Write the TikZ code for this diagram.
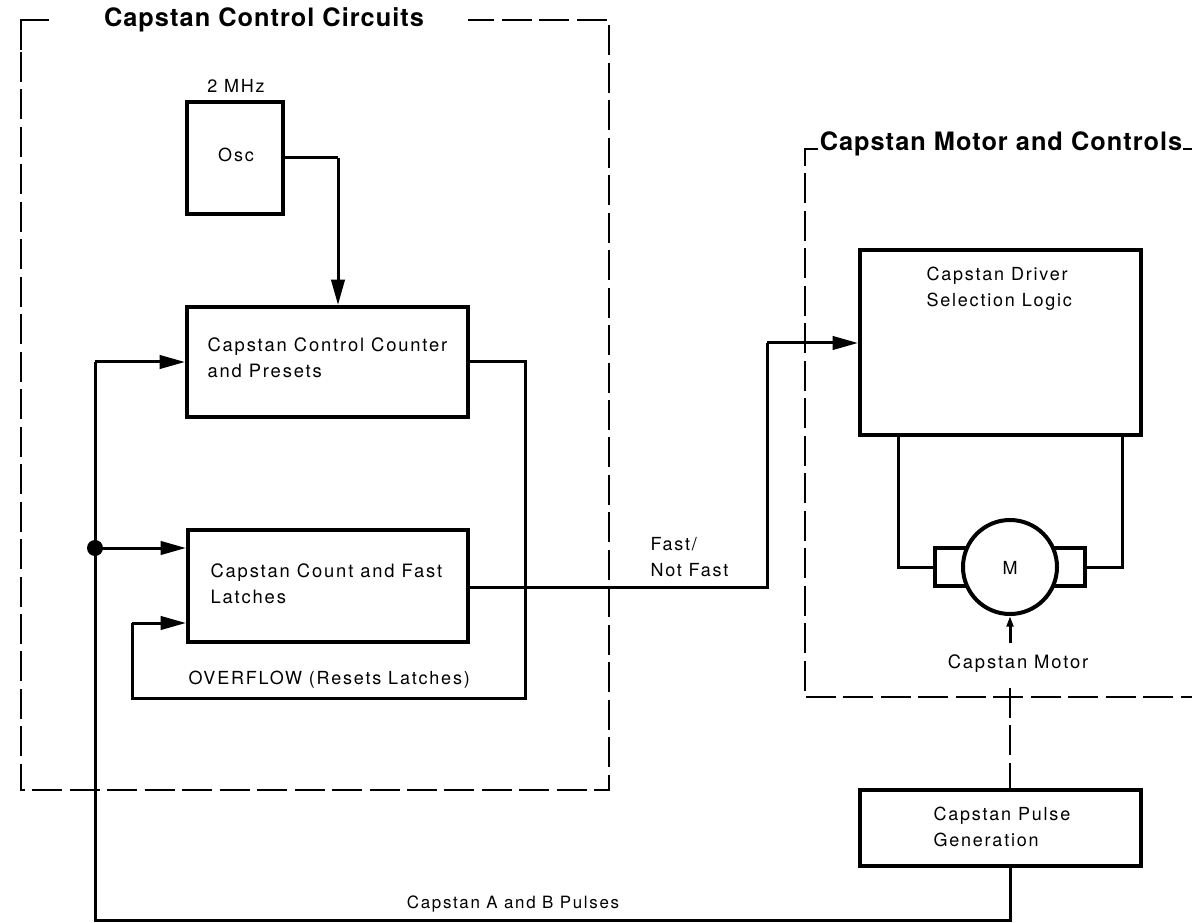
\documentclass[tikz,border=0pt]{standalone}
\usepackage{fontspec}
\setmainfont{TeX Gyre Heros}
\newfontfamily\spacedfont[LetterSpace=10]{TeX Gyre Heros}
\newfontfamily\headfont[LetterSpace=4,BoldFont={TeX Gyre Heros Bold}]{TeX Gyre Heros}
\usetikzlibrary{arrows.meta}
\tikzset{every picture/.style={line width=0.75pt}}
\tikzset{
  blockbox/.style={draw,line width=3pt,inner sep=0pt,anchor=north west},
  wire/.style={line width=2.25pt},
  feed/.style={wire,-{Triangle[length=19pt,width=10pt]}},
  dashwire/.style={line width=1.4pt,dash pattern=on 22.5pt off 5.6pt},
  label/.style={font=\fontsize{13.5pt}{19.5pt}\selectfont\spacedfont,align=left,inner sep=0pt},
  biglabel/.style={label,font=\fontsize{13.8pt}{19.5pt}\selectfont\spacedfont},
  heading/.style={font=\fontsize{19pt}{21pt}\selectfont\headfont\bfseries,inner sep=0pt}
}

\begin{document}
\begin{tikzpicture}[x=0.75pt,y=0.75pt,yscale=-1,xscale=1]
\useasboundingbox (0,0) rectangle (1192,923);

%Blocks
\node [blockbox,minimum width=72pt,minimum height=84pt] (osc) at (185,100) {};
\node [blockbox,minimum width=210.75pt,minimum height=82.5pt] (counter) at (185,305) {};
\node [blockbox,minimum width=210pt,minimum height=84pt] (latches) at (186,528) {};
\node [blockbox,minimum width=210.75pt,minimum height=139pt] (driver) at (858,248) {};
\node [blockbox,minimum width=210.75pt,minimum height=57pt] (pulse) at (858,788) {};

%Brushes
\node [blockbox,minimum width=24pt,minimum height=28.5pt] (brushl) at (933,546) {};
\node [blockbox,minimum width=24pt,minimum height=28.5pt] (brushr) at (1051,546) {};
\node [draw,circle,line width=3pt,minimum size=70.5pt,inner sep=0pt,fill=white] (motor) at (1010,567) {};

%Free ends
\coordinate (dot) at (95,548);
\coordinate (shaft) at (1010,643);

%Dashed frames
\draw [dashwire] (21,52) -- (21,790) -- (609,790) -- (609,20) -- (468,20);
\draw [line width=1.4pt] (21,50) -- (21,20) -- (49,20);
\draw [dashwire] (818,149) -- (805,149) -- (805,697) -- (1192,697);
\draw [line width=1.4pt] (1183,149) -- (1192,149);
\draw [dashwire] (1010,688) -- (pulse.north -| shaft);

%Connectors
\draw [wire] (osc.east |- 0,158) -- (338,158);
\draw [feed] (338,158) -- (counter.north -| 338,0);
\draw [wire] (pulse.south -| shaft) -- (1010,920) -- (95,920) -- (95,362);
\draw [feed] (95,362) -- (counter.west |- 0,362);
\fill (dot) circle (8);
\draw [feed] (dot) -- (latches.west |- dot);
\draw [wire] (counter.east |- 0,362) -- (525,362) -- (525,698) -- (132,698) -- (132,623);
\draw [feed] (132,623) -- (latches.west |- 0,623);
\draw [wire] (latches.east |- 0,587) -- (767,587) -- (767,343);
\draw [feed] (767,343) -- (driver.west |- 0,343);
\draw [wire] (brushl.west) -| (driver.south -| 898,0);
\draw [wire] (brushr.east) -| (driver.south -| 1122,0);
\draw [wire,-{Triangle[length=8pt,width=5pt]}] (shaft) -- (motor.south -| shaft);

%Text
\node [heading] (ctltitle) at (264,20) {Capstan Control Circuits};
\node [heading] (mottitle) at (1001,144) {Capstan Motor and Controls};
\node [label] (mhz) at (236,86) {2 MHz};
\node [label] (osclabel) at (236,155) {Osc};
\node [biglabel,anchor=west] (ctrlabel) at (207,358) {Capstan Control Counter\\and Presets};
\node [biglabel,anchor=west] (latlabel) at (210,584) {Capstan Count and Fast\\Latches};
\node [label,anchor=west] (ovf) at (188,680) {OVERFLOW (Resets Latches)};
\node [label,anchor=west] (fast) at (650,557) {Fast/\\Not Fast};
\node [label,anchor=west] (drvlabel) at (926,289) {Capstan Driver\\Selection Logic};
\node [label] (mlabel) at (1010,568) {M};
\node [biglabel] (motlabel) at (1018,664) {Capstan Motor};
\node [label,anchor=west] (pulselabel) at (933,827) {Capstan Pulse\\Generation};
\node [label,font=\fontsize{12.7pt}{15pt}\selectfont\spacedfont] (ablabel) at (513,904) {Capstan A and B Pulses};
\end{tikzpicture}
\end{document}
